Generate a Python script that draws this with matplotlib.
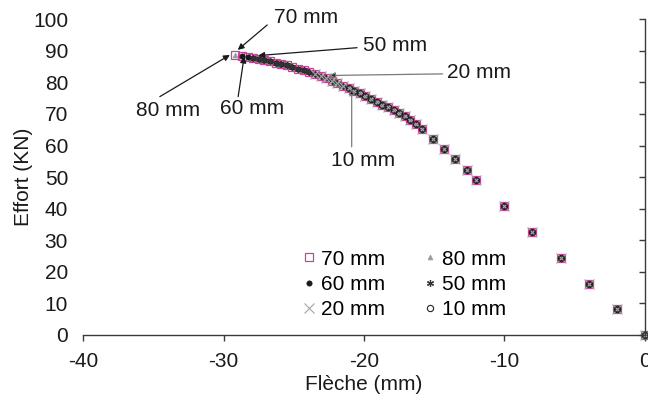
import matplotlib
matplotlib.use("Agg")
import matplotlib.pyplot as plt

plt.rcParams['font.family'] = ['Liberation Sans', 'DejaVu Sans']

# Shared load-deflection curve (Flèche in mm, Effort in kN)
fleche = [0, -2, -4, -6, -8, -10, -12, -12.7, -13.5, -14.3, -15.1, -15.9,
          -16.3, -16.7, -17.1, -17.5, -17.9, -18.3, -18.7, -19.1, -19.5, -19.9,
          -20.3, -20.7, -21.1, -21.5, -21.9, -22.3, -22.7, -23.1, -23.5, -23.9,
          -24.3, -24.7, -25.1, -25.5, -25.9, -26.3, -26.7, -27.1, -27.5, -27.9,
          -28.3, -28.7, -29.2]
effort = [0, 8.2, 16.3, 24.5, 32.6, 40.8, 49.0, 52.4, 55.6, 58.9, 62.1, 65.3,
          66.8, 68.2, 69.3, 70.3, 71.2, 72.1, 73.0, 73.9, 74.8, 75.7,
          76.6, 77.4, 78.2, 79.0, 79.8, 80.6, 81.3, 82.0, 82.6, 83.2,
          83.8, 84.4, 84.9, 85.4, 85.9, 86.3, 86.7, 87.1, 87.4, 87.7,
          88.0, 88.3, 88.7]

labels = ['70 mm', '80 mm', '60 mm', '50 mm', '20 mm', '10 mm']
# number of points of the shared curve reached by each series
n_points = [45, 45, 44, 42, 31, 25]

# annotations: label, text position, line start, arrow tip
ann_labels = ['70 mm', '50 mm', '20 mm', '10 mm', '60 mm', '80 mm']
ann_text = [(-24.1, 100.6), (-20.1, 91.7), (-14.1, 83.2), (-20.1, 55.2), (-27.95, 71.8), (-33.95, 71.0)]
ann_start = [(-26.9, 98.2), (-20.5, 91.0), (-14.4, 82.7), (-20.88, 59.6), (-28.97, 75.5), (-34.55, 75.5)]
ann_tip = [(-29.0, 90.3), (-27.54, 88.5), (-22.5, 82.2), (-20.88, 78.1), (-28.54, 88.2), (-29.56, 88.7)]

styles = {
    '70 mm': dict(marker='s', ms=6, mfc='none', mec='#c4479b', mew=0.9),
    '80 mm': dict(marker='^', ms=3.5, mfc='#9a9a9a', mec='#9a9a9a', mew=0.5),
    '60 mm': dict(marker='o', ms=3.8, mfc='#1a1a1a', mec='#1a1a1a', mew=0.5),
    '50 mm': dict(marker=(6, 2, 0), ms=5, mfc='#333333', mec='#333333', mew=0.9),
    '20 mm': dict(marker='x', ms=6.5, mfc='none', mec='#a5a5a5', mew=0.8),
    '10 mm': dict(marker='o', ms=4.5, mfc='none', mec='#222222', mew=0.8),
}

fig = plt.figure(figsize=(6.48, 4.0), dpi=100)
ax = fig.add_axes([0.1286, 0.1625, 0.8664, 0.7893])

handles = {}
for lab, n in zip(labels, n_points):
    h, = ax.plot(fleche[:n], effort[:n], linestyle='none', clip_on=False,
                 **styles[lab], label=lab)
    handles[lab] = h

arrow_col = {'20 mm': '#7a7a7a', '10 mm': '#7a7a7a'}
for lab, tp, st, tip in zip(ann_labels, ann_text, ann_start, ann_tip):
    c = arrow_col.get(lab, '#1a1a1a')
    ax.annotate('', xy=tip, xytext=st,
                arrowprops=dict(arrowstyle='-|>', color=c, lw=0.9,
                                mutation_scale=9, shrinkA=0, shrinkB=0,
                                fc='#1a1a1a'))
    ha = 'left' if lab in ('50 mm', '20 mm') else 'center'
    ax.text(tp[0], tp[1], lab, ha=ha, va='center', fontsize=15, color='#1a1a1a')

ax.set_xlim(-40, 0)
ax.set_ylim(0, 100)
ax.set_xticks([-40, -30, -20, -10, 0])
ax.set_yticks(range(0, 101, 10))
ax.set_xticklabels(['-40', '-30', '-20', '-10', '0'])

for s in ['top', 'left']:
    ax.spines[s].set_visible(False)
for s in ['bottom', 'right']:
    ax.spines[s].set_color('#3a3a3a')
    ax.spines[s].set_linewidth(1.0)

ax.tick_params(axis='x', direction='out', length=4, width=1, color='#3a3a3a',
               labelsize=15, pad=8, labelcolor='#1a1a1a')
ax.tick_params(axis='y', left=False, right=True, labelleft=True, labelright=False,
               direction='in', length=4, width=1, color='#3a3a3a',
               labelsize=15, pad=11, labelcolor='#1a1a1a')

ax.set_xlabel('Flèche (mm)', fontsize=15, color='#1a1a1a', labelpad=3)
ax.set_ylabel('Effort (KN)', fontsize=15, color='#1a1a1a', labelpad=0)

order = ['70 mm', '60 mm', '20 mm', '80 mm', '50 mm', '10 mm']
ax.legend([handles[k] for k in order], order, ncol=2, frameon=False,
          loc='upper left', bbox_to_anchor=(0.39, 0.27), fontsize=15,
          handlelength=0.6, handletextpad=0.3, columnspacing=1.85,
          labelspacing=0.3, borderpad=0, borderaxespad=0)

fig.savefig('out.png', dpi=100)
